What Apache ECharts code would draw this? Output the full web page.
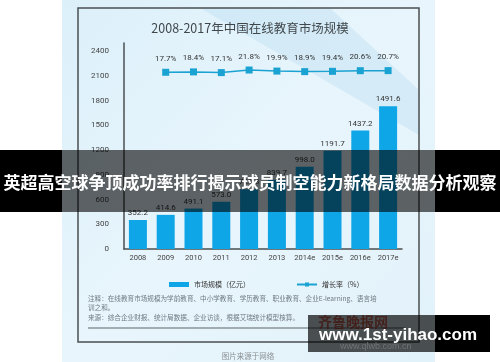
<!DOCTYPE html>
<html>
<head>
<meta charset="utf-8">
<script src="https://cdn.jsdelivr.net/npm/echarts@6/dist/echarts.min.js"></script>
<style>html,body{margin:0;padding:0;background:#fff;}#c{width:500px;height:362px;}</style>
</head>
<body>
<div id="c"></div>
<script>
const categories = ['2008','2009','2010','2011','2012','2013','2014e','2015e','2016e','2017e'];
const marketSize = [352.2, 414.6, 491.1, 573.0, 723.8, 839.7, 998.0, 1191.7, 1437.2, 1733.9];
const marketLabels = ['352.2','414.6','491.1','573.0','723.8','839.7','998.0','1191.7','1437.2','1491.6'];
const growthRate = [null, 17.7, 18.4, 17.1, 21.8, 19.9, 18.9, 19.4, 20.6, 20.7];
const seriesNames = ['市场规模（亿元）', '增长率（%）'];
const titleText = '2008-2017年中国在线教育市场规模';
const noteLines = [
  '注释：在线教育市场规模为学前教育、中小学教育、学历教育、职业教育、企业E-learning、语言培',
  '训之和。',
  '来源：综合企业财报、统计局数据、企业访谈，根据艾瑞统计模型核算。'
];
const bannerText = '英超高空球争顶成功率排行揭示球员制空能力新格局数据分析观察';
const watermarkText = 'www.1st-yihao.com';
const sourceText = '图片来源于网络';

const CJK = '"Noto Sans CJK SC", "Noto Sans", sans-serif';
const chart = echarts.init(document.getElementById('c'), null, {renderer: 'canvas'});

const graphics = [
  {type: 'rect', z: -10, shape: {x: 62, y: 0, width: 373, height: 362},
   style: {fill: new echarts.graphic.LinearGradient(0, 0, 1, 1, [
     {offset: 0, color: '#dcf0fa'}, {offset: 0.5, color: '#e8f5fc'}, {offset: 1, color: '#e2f2fa'}])}},
  {type: 'polygon', z: -9, shape: {points: [[200, 8], [330, 8], [419, 90], [419, 135]]},
   style: {fill: 'rgba(190,225,242,0.45)'}},
  {type: 'rect', z: 5, shape: {x: 78, y: 8, width: 341, height: 334},
   style: {fill: 'none', stroke: '#4a4f52', lineWidth: 1.5}},
  {type: 'text', z: 5, style: {x: 88, y: 298, text: noteLines[0], fill: '#6f7a80', font: '6.6px ' + CJK, textVerticalAlign: 'middle'}},
  {type: 'text', z: 5, style: {x: 88, y: 307, text: noteLines[1], fill: '#6f7a80', font: '6.6px ' + CJK, textVerticalAlign: 'middle'}},
  {type: 'text', z: 5, style: {x: 88, y: 317, text: noteLines[2], fill: '#6f7a80', font: '6.6px ' + CJK, textVerticalAlign: 'middle'}},
  {type: 'line', z: 5, shape: {x1: 88, y1: 328, x2: 405, y2: 328}, style: {stroke: '#8a9499', lineWidth: 1.5}},
  {type: 'text', z: 5, style: {x: 248, y: 356, text: sourceText, fill: '#8a8f92', font: '7.5px ' + CJK, textAlign: 'center', textVerticalAlign: 'middle'}},
  {type: 'rect', z: 100, shape: {x: 0, y: 150, width: 62, height: 62}, style: {fill: '#000'}},
  {type: 'rect', z: 100, shape: {x: 62, y: 150, width: 373, height: 62}, style: {fill: 'rgba(0,0,0,0.6)'}},
  {type: 'rect', z: 100, shape: {x: 435, y: 150, width: 65, height: 62}, style: {fill: '#000'}},
  {type: 'text', z: 101, style: {x: 250, y: 183, text: bannerText, fill: '#fff', font: 'bold 17px ' + CJK, textAlign: 'center', textVerticalAlign: 'middle'}},
  {type: 'text', z: 99, style: {x: 318, y: 322, text: '齐鲁晚报网', fill: 'rgba(200,60,40,0.75)', font: 'bold 14px ' + CJK, textVerticalAlign: 'middle'}},
  {type: 'rect', z: 100, shape: {x: 308, y: 315, width: 127, height: 37}, style: {fill: 'rgba(0,0,0,0.68)'}},
  {type: 'rect', z: 100, shape: {x: 435, y: 315, width: 55, height: 37}, style: {fill: '#000'}},
  {type: 'text', z: 101, style: {x: 340, y: 347, text: 'www.qlwb.com.cn', fill: 'rgba(120,120,120,0.9)', font: '9px "Liberation Sans", sans-serif', textVerticalAlign: 'middle'}},
  {type: 'text', z: 102, style: {x: 398, y: 335, text: watermarkText, fill: '#fff', font: 'bold 17px "Liberation Sans", Arial, sans-serif', textAlign: 'center', textVerticalAlign: 'middle'}}
];

chart.setOption({
  animation: false,
  backgroundColor: '#fff',
  title: {text: titleText, left: 'center', top: 17,
    textStyle: {fontFamily: CJK, fontSize: 12.5, fontWeight: 'normal', color: '#40474b'}},
  legend: {
    left: 164, top: 276, itemWidth: 20, itemHeight: 5, itemGap: 46,
    textStyle: {fontFamily: CJK, fontSize: 7, color: '#333'},
    data: [{name: seriesNames[0], icon: 'rect'}, {name: seriesNames[1]}]
  },
  grid: {left: 124, right: 98, top: 43, bottom: 113, containLabel: false},
  xAxis: {
    type: 'category', data: categories,
    axisLine: {lineStyle: {color: '#4a4f52', width: 1.5}},
    axisTick: {show: false},
    axisLabel: {interval: 0, fontSize: 7.5, color: '#444', margin: 5, fontFamily: 'Roboto, sans-serif'}
  },
  yAxis: [{
    type: 'value', min: 0, max: 2500, interval: 300,
    axisLine: {show: true, lineStyle: {color: '#4a4f52', width: 1.5}},
    axisTick: {show: false}, splitLine: {show: false},
    axisLabel: {fontSize: 8, color: '#444', margin: 15, showMaxLabel: false, fontFamily: 'Roboto, sans-serif',
      formatter: v => (v % 300 === 0 ? String(v) : '')}
  }, {
    type: 'value', min: -304, max: 71, show: false, splitLine: {show: false}
  }],
  series: [{
    name: seriesNames[0], type: 'bar', data: marketSize, barWidth: 18,
    itemStyle: {color: '#0ea6e6'},
    label: {show: true, position: 'top', distance: 3, fontSize: 8, color: '#333', fontFamily: 'Roboto, sans-serif',
      formatter: p => marketLabels[p.dataIndex]}
  }, {
    name: seriesNames[1], type: 'line', yAxisIndex: 1, data: growthRate,
    symbol: 'rect', symbolSize: 7, connectNulls: false,
    lineStyle: {color: '#1aa2d2', width: 1.5},
    itemStyle: {color: '#1aa2d2'},
    label: {show: true, position: 'top', distance: 6, fontSize: 8, color: '#333', fontFamily: 'Roboto, sans-serif',
      formatter: p => p.value + '%'}
  }],
  graphic: graphics
});
</script>
</body>
</html>
